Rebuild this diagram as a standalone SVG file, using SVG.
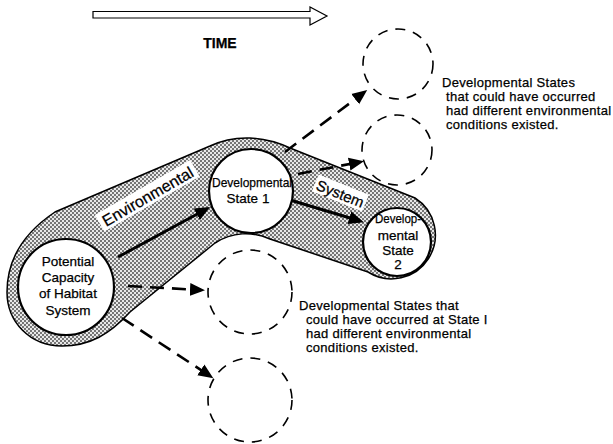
<svg xmlns="http://www.w3.org/2000/svg" width="613" height="444" viewBox="0 0 613 444">
<style>
  text { font-family: "Liberation Sans", Arial, sans-serif; fill: #000; stroke: #000; stroke-width: 0.25px; }
  .node text { font-size: 13.5px; text-anchor: middle; }
  .note { font-size: 13px; letter-spacing: 0.3px; }
  .solid { fill: #fff; stroke: #000; stroke-width: 2.2; }
  .dashed { fill: none; stroke: #000; stroke-width: 1.6; stroke-dasharray: 10 8; }
  .arrow { fill: none; stroke: #000; stroke-width: 3; }
  .darrow { fill: none; stroke: #000; stroke-width: 2.6; stroke-dasharray: 14 8; }
</style>
<defs>
  <pattern id="stip" width="4" height="4" patternUnits="userSpaceOnUse">
    <rect width="4" height="4" fill="#e8e8e8"/>
    <circle cx="1" cy="1" r="0.95" fill="#444"/>
    <circle cx="3" cy="3" r="0.95" fill="#444"/>
  </pattern>
  <marker id="ah" markerUnits="userSpaceOnUse" markerWidth="16" markerHeight="14" refX="11" refY="6.5" orient="auto" viewBox="0 0 16 13">
    <path d="M0,0 L15,6.5 L0,13 Z" fill="#000" stroke="none"/>
  </marker>
</defs>

<rect width="613" height="444" fill="#fff"/>

<!-- TIME arrow -->
<g id="time">
  <path d="M93,11.5 L310,11.5 L310,7 L327,16 L310,25 L310,18 L93,18 Z" fill="#fff" stroke="#000" stroke-width="1.2"/>
  <text x="220" y="48" font-size="14" font-weight="bold" text-anchor="middle" stroke="none">TIME</text>
</g>

<!-- Environmental system band -->
<g id="band">
  <path d="M7,292 C7,258 25,232 55,212 L210,146 C235,134 265,136 290,148 L415,198 A43,43 0 1 1 368,272 L270,239 C252,231 232,232 215,243 L130,312 C110,334 90,346 62,346 C30,346 7,322 7,292 Z" fill="url(#stip)" stroke="#000" stroke-width="1.5"/>
  <g transform="translate(148,197) rotate(-30)">
    <rect x="-55" y="-11" width="110" height="19" fill="#fff"/>
    <text x="0" y="5" font-size="16" text-anchor="middle">Environmental</text>
  </g>
  <g transform="translate(340,194) rotate(22)">
    <rect x="-27" y="-10" width="54" height="18" fill="#fff"/>
    <text x="0" y="5" font-size="15" text-anchor="middle">System</text>
  </g>
</g>

<!-- connectors -->
<g id="connectors">
  <line class="arrow" x1="118" y1="257" x2="206.5" y2="209" marker-end="url(#ah)"/>
  <line class="arrow" x1="290" y1="200" x2="360" y2="221" marker-end="url(#ah)"/>
  <line class="darrow" x1="285" y1="152" x2="364" y2="92.5" marker-end="url(#ah)"/>
  <line class="darrow" x1="298" y1="174" x2="360" y2="162" marker-end="url(#ah)"/>
  <line class="darrow" x1="128" y1="286" x2="201" y2="290" marker-end="url(#ah)"/>
  <line class="darrow" x1="122" y1="318" x2="210" y2="376" marker-end="url(#ah)"/>
</g>

<g id="node-potential" class="node">
  <circle class="solid" cx="66" cy="287" r="48"/>
  <text x="68" y="266">Potential</text>
  <text x="68" y="281.5">Capacity</text>
  <text x="68" y="298">of Habitat</text>
  <text x="68" y="314.5">System</text>
</g>

<g id="node-state1" class="node">
  <circle class="solid" cx="251" cy="191" r="42"/>
  <text x="252" y="186.5" font-size="13" textLength="80" lengthAdjust="spacingAndGlyphs">Developmental</text>
  <text x="248" y="203" font-size="13">State 1</text>
</g>

<g id="node-state2" class="node">
  <circle class="solid" cx="397" cy="242" r="34"/>
  <text x="398" y="222.5" font-size="13" textLength="46" lengthAdjust="spacingAndGlyphs">Develop-</text>
  <text x="398" y="239.5" font-size="13">mental</text>
  <text x="398" y="254.5" font-size="13">State</text>
  <text x="398" y="269" font-size="13">2</text>
</g>

<g id="node-alt1">
  <circle class="dashed" cx="398" cy="64" r="35"/>
</g>
<g id="node-alt2">
  <circle class="dashed" cx="397" cy="150" r="35"/>
</g>
<g id="node-alt3">
  <circle class="dashed" cx="250" cy="292" r="42"/>
</g>
<g id="node-alt4">
  <circle class="dashed" cx="250" cy="400" r="42"/>
</g>

<g id="note-top" class="note">
  <text x="442" y="86.5">Developmental States</text>
  <text x="446" y="100.5">that could have occurred</text>
  <text x="446" y="114.5">had different environmental</text>
  <text x="446" y="128.5">conditions existed.</text>
</g>

<g id="note-bottom" class="note">
  <text x="299" y="309.5">Developmental States that</text>
  <text x="306" y="323.5">could have occurred at State I</text>
  <text x="306" y="337.5">had different environmental</text>
  <text x="306" y="351.5">conditions existed.</text>
</g>
</svg>
